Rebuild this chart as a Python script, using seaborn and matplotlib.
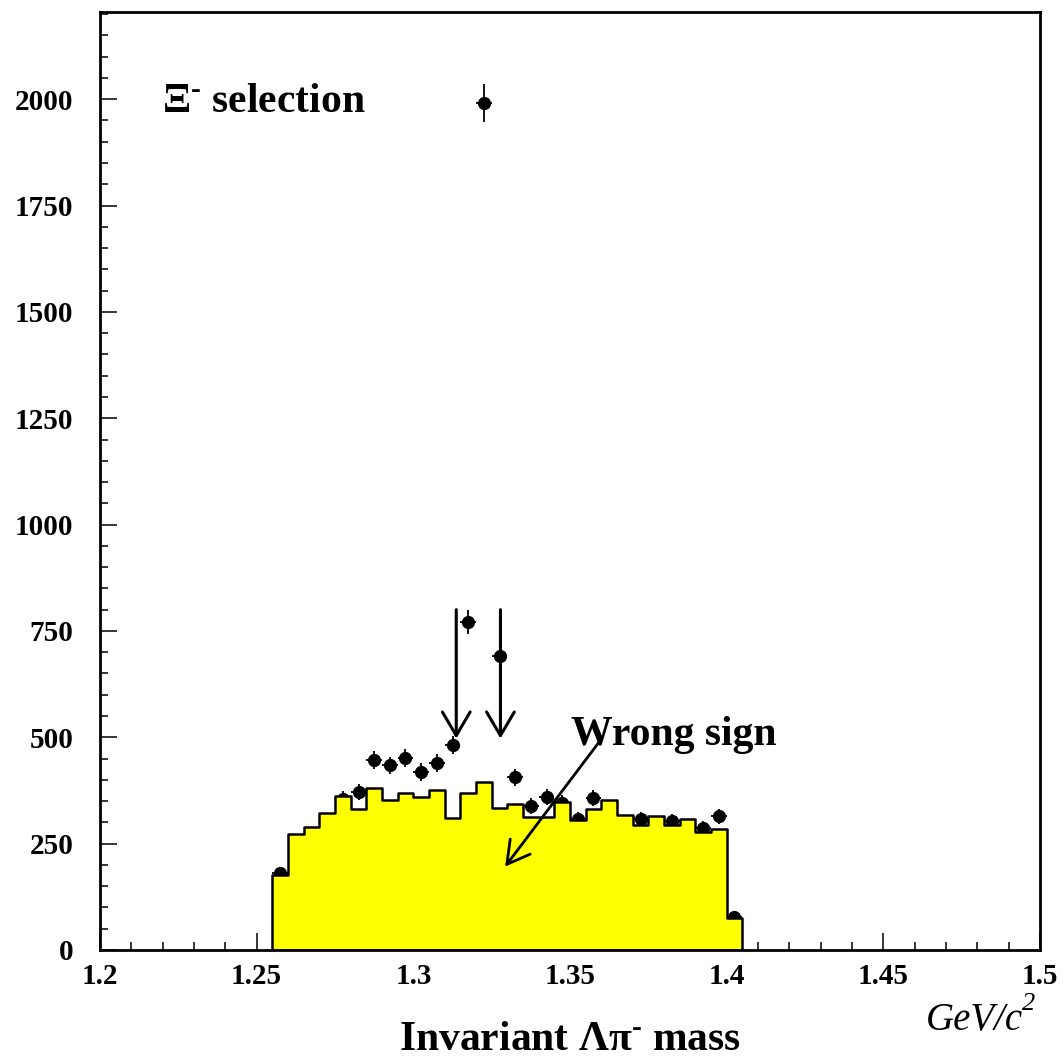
import numpy as np
import pandas as pd
import matplotlib
matplotlib.use('Agg')
import matplotlib.pyplot as plt
from matplotlib.ticker import MultipleLocator
import seaborn as sns

# bins of 5 MeV from 1.255 to 1.405
bin_edges = np.round(np.arange(1.255, 1.4051, 0.005), 4)
bin_centers = (bin_edges[:-1] + bin_edges[1:]) / 2

# wrong sign histogram (yellow)
wrong_sign = [176, 272, 289, 322, 363, 332, 380, 352, 369, 360,
              377, 310, 369, 396, 333, 344, 312, 312, 347, 306,
              331, 353, 318, 293, 315, 293, 307, 278, 285, 76]

# Xi- selection, data points
xi_counts = [180, 250, 268, 300, 355, 372, 447, 434, 452, 418,
             439, 482, 771, 1992, 692, 406, 339, 359, 345, 307,
             358, 330, 295, 308, 290, 303, 285, 286, 314, 78]

# mass window arrows
window = [1.3137, 1.3278]

sns.set_style('ticks')
plt.rcParams['font.family'] = ['Liberation Serif', 'DejaVu Serif']
plt.rcParams['font.weight'] = 'bold'
plt.rcParams['text.color'] = 'black'
plt.rcParams['xtick.color'] = 'black'
plt.rcParams['ytick.color'] = 'black'
plt.rcParams['mathtext.fontset'] = 'custom'
plt.rcParams['mathtext.rm'] = 'Liberation Serif:bold'
plt.rcParams['mathtext.it'] = 'Liberation Serif:italic'
plt.rcParams['mathtext.bf'] = 'Liberation Serif:bold'

df = pd.DataFrame({'mass': bin_centers, 'wrong': wrong_sign, 'xi': xi_counts})

fig = plt.figure(figsize=(10.63, 10.58), dpi=100)
ax = fig.add_axes([100/1063, 108/1058, 940/1063, 938/1058])

# data points (drawn under the histogram)
ax.errorbar(df['mass'], df['xi'], yerr=np.sqrt(df['xi']), xerr=0.0025,
            fmt='o', color='black', ms=8.5, elinewidth=1.3, capsize=0, zorder=1)

sns.histplot(data=df, x='mass', weights='wrong', bins=list(bin_edges),
             element='step', fill=True, color='#ffff00', alpha=1,
             edgecolor='black', linewidth=1.8, ax=ax, zorder=2)

for xm in window:
    ax.annotate('', xy=(xm, 497), xytext=(xm, 800),
                arrowprops=dict(arrowstyle='->, head_length=0.85, head_width=0.5',
                                lw=2.2, color='black', mutation_scale=20,
                                shrinkA=0, shrinkB=0), zorder=3)

ax.annotate('', xy=(1.3293, 196), xytext=(1.3594, 490),
            arrowprops=dict(arrowstyle='->, head_length=0.8, head_width=0.45',
                            lw=2.0, color='black', mutation_scale=20,
                            shrinkA=0, shrinkB=0), zorder=3)

ax.text(0.501, 0.229, 'Wrong sign', transform=ax.transAxes, ha='left',
        va='center', fontsize=30, fontweight='bold', zorder=4)
ax.text(0.066, 0.904, r'Ξ$^{\text{-}}$ selection', transform=ax.transAxes, ha='left',
        va='center', fontsize=30, fontweight='bold')

ax.set_xlim(1.2, 1.5)
ax.set_ylim(0, 2205)
ax.xaxis.set_major_locator(MultipleLocator(0.05))
ax.xaxis.set_minor_locator(MultipleLocator(0.01))
ax.yaxis.set_major_locator(MultipleLocator(250))
ax.yaxis.set_minor_locator(MultipleLocator(50))
ax.set_xticks([1.2, 1.25, 1.3, 1.35, 1.4, 1.45, 1.5])
ax.set_xticklabels(['1.2', '1.25', '1.3', '1.35', '1.4', '1.45', '1.5'])
ax.tick_params(axis='both', which='both', direction='in', top=False, right=False,
               labelsize=21, width=1.1, colors='black')
ax.tick_params(axis='both', which='major', length=12)
ax.tick_params(axis='both', which='minor', length=6)
ax.tick_params(axis='x', pad=9)
ax.tick_params(axis='y', pad=19)
for lab in ax.get_xticklabels() + ax.get_yticklabels():
    lab.set_fontweight('bold')
for s in ax.spines.values():
    s.set_visible(True)
    s.set_linewidth(2)
    s.set_color('black')
ax.set_xlabel('')
ax.set_ylabel('')

fig.text(570/1063, 1 - 1040/1058, r'Invariant Λπ$^{\text{-}}$ mass', ha='center',
         va='center', fontsize=30, fontweight='bold')
fig.text(1023/1063, 1 - 1030/1058, 'GeV/c', ha='right', va='baseline',
         fontsize=28, fontstyle='italic', fontweight='normal')
fig.text(1022/1063, 1 - 993/1058, '2', ha='left', va='top',
         fontsize=19, fontstyle='italic', fontweight='normal')

fig.savefig('out.png', dpi=100)
